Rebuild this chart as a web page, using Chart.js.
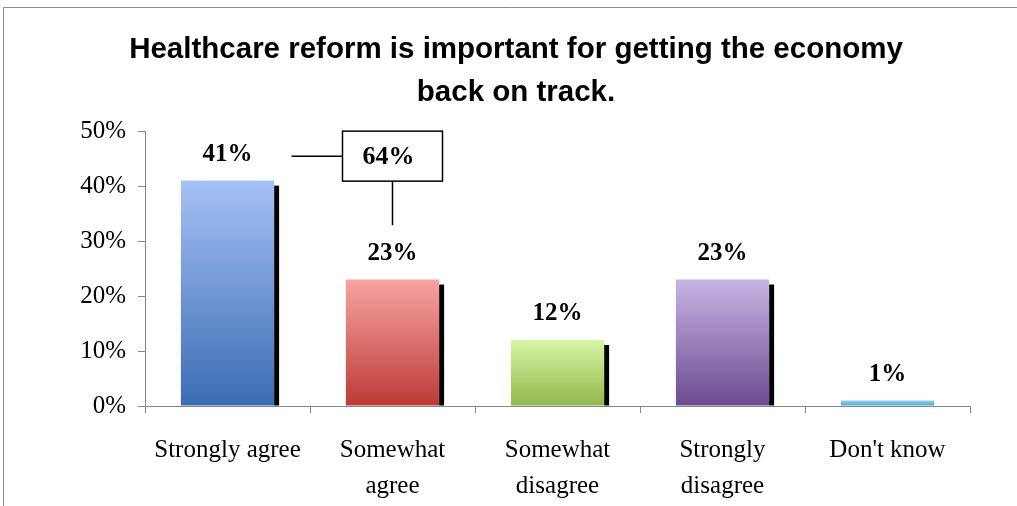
<!DOCTYPE html>
<html>
<head>
<meta charset="utf-8">
<script src="https://cdn.jsdelivr.net/npm/chart.js@4"></script>
<style>
  html, body { margin: 0; padding: 0; background: #fff; overflow: hidden; }
  #wrap { position: relative; width: 1017px; height: 506px; }
</style>
</head>
<body>
<div id="wrap"><canvas id="reformChart"></canvas></div>
<script>
// Survey answers and their shares (%)
const categories = [['Strongly agree'], ['Somewhat', 'agree'], ['Somewhat', 'disagree'], ['Strongly', 'disagree'], ["Don't know"]];
const shares = [41, 23, 12, 23, 1];
const yTicks = [0, 10, 20, 30, 40, 50];
const titleLines = ['Healthcare reform is important for getting the economy', 'back on track.'];

// gradient ends for each bar (top -> bottom)
const topColors = ['#a6c1f6', '#f8a4a1', '#d7f6a4', '#c7b5e4', '#92d3ec'];
const bottomColors = ['#3a6cb2', '#bc3a37', '#91b74c', '#6c4a90', '#4aa6cc'];

const axisGray = '#868686';
const serif = "'Liberation Serif', 'Times New Roman', serif";

function barFill(ctx) {
  const chart = ctx.chart;
  const i = ctx.dataIndex;
  if (!chart.chartArea) return topColors[i];
  const y = chart.scales.y;
  const top = y.getPixelForValue(shares[i]);
  const bottom = y.getPixelForValue(0);
  const g = chart.ctx.createLinearGradient(0, top, 0, bottom);
  g.addColorStop(0, topColors[i]);
  g.addColorStop(1, bottomColors[i]);
  return g;
}

// outer frame of the chart object
const framePlugin = {
  id: 'frame',
  beforeDraw(chart) {
    const c = chart.ctx;
    c.save();
    c.strokeStyle = '#8c8c8c';
    c.lineWidth = 1;
    c.beginPath();
    c.moveTo(3.5, chart.height);
    c.lineTo(3.5, 7.5);
    c.lineTo(chart.width, 7.5);
    c.stroke();
    c.restore();
  }
};

// black drop shadow on the right of each bar
const shadowPlugin = {
  id: 'barShadow',
  beforeDatasetsDraw(chart) {
    const c = chart.ctx;
    const meta = chart.getDatasetMeta(0);
    c.save();
    c.fillStyle = '#000';
    meta.data.forEach(bar => {
      const p = bar.getProps(['x', 'y', 'base', 'width'], true);
      const h = p.base - p.y - 5;
      if (h > 0) c.fillRect(p.x + p.width / 2, p.y + 5, 5, h);
    });
    c.restore();
  }
};

// value labels above the bars + the combined "agree" callout
const labelPlugin = {
  id: 'valueLabels',
  afterDatasetsDraw(chart) {
    const c = chart.ctx;
    const meta = chart.getDatasetMeta(0);
    c.save();
    c.fillStyle = '#000';
    c.textAlign = 'center';
    c.textBaseline = 'alphabetic';
    c.font = 'bold 25px ' + serif;
    meta.data.forEach((bar, i) => {
      c.fillText(shares[i] + '%', bar.x, bar.y - 20);
    });

    // callout box joining the two agree bars
    const x = chart.scales.x;
    const y = chart.scales.y;
    const cx = x.getPixelForValue(1);
    const boxTop = y.getPixelForValue(50);
    const boxW = 100, boxH = 50;
    const left = cx - boxW / 2;
    const midY = boxTop + boxH / 2;
    c.strokeStyle = '#000';
    c.lineWidth = 1.5;
    c.strokeRect(left, boxTop, boxW, boxH);
    c.beginPath();
    c.moveTo(x.getPixelForValue(0) + 64, midY);
    c.lineTo(left, midY);
    c.moveTo(cx, boxTop + boxH);
    c.lineTo(cx, boxTop + boxH + 44);
    c.stroke();
    c.font = 'bold 26px ' + serif;
    c.textBaseline = 'middle';
    c.fillText((shares[0] + shares[1]) + '%', cx - 4, midY + 1);
    c.restore();
  }
};

new Chart(document.getElementById('reformChart'), {
  type: 'bar',
  data: {
    labels: categories,
    datasets: [{
      data: shares,
      backgroundColor: barFill,
      borderWidth: 0,
      categoryPercentage: 1,
      barPercentage: 0.565
    }]
  },
  options: {
    responsive: true,
    maintainAspectRatio: false,
    animation: false,
    layout: { padding: { top: 8, right: 47, left: 62, bottom: 0 } },
    plugins: {
      legend: { display: false },
      tooltip: { enabled: false },
      title: {
        display: true,
        text: titleLines,
        color: '#000',
        font: { family: "'Liberation Sans', Arial, sans-serif", size: 29.5, weight: 'bold', lineHeight: 1.46 },
        padding: { top: 20, bottom: 17 }
      }
    },
    scales: {
      x: {
        afterFit(scale) { scale.height = 100; },
        grid: { display: true, drawOnChartArea: false, offset: true, tickLength: 7, color: axisGray },
        border: { display: true, color: axisGray },
        ticks: { color: '#000', font: { family: serif, size: 25, lineHeight: 1.44 }, padding: 19, maxRotation: 0, autoSkip: false }
      },
      y: {
        min: 0,
        max: 50,
        afterFit(scale) { scale.width = 83; },
        afterBuildTicks(scale) { scale.ticks = yTicks.map(v => ({ value: v })); },
        grid: { display: true, drawOnChartArea: false, tickLength: 7, color: axisGray },
        border: { display: true, color: axisGray },
        ticks: { color: '#000', font: { family: serif, size: 25 }, padding: 12, callback: v => v + '%' }
      }
    }
  },
  plugins: [framePlugin, shadowPlugin, labelPlugin]
});
</script>
</body>
</html>
